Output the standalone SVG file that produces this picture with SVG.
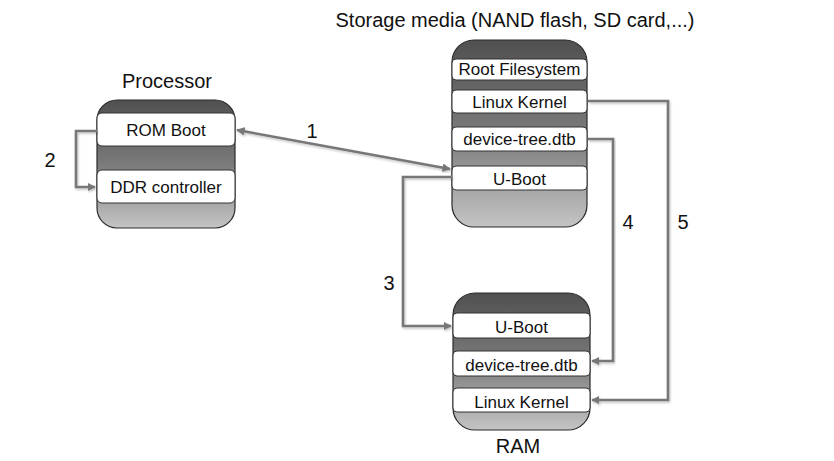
<svg xmlns="http://www.w3.org/2000/svg" width="834" height="461" viewBox="0 0 834 461">
<defs>
<linearGradient id="g" x1="0" y1="0" x2="0" y2="1">
<stop offset="0" stop-color="#505050"/>
<stop offset="0.5" stop-color="#7a7a7a"/>
<stop offset="1" stop-color="#c4c4c4"/>
</linearGradient>
<marker id="ah" viewBox="0 0 10 10" refX="9" refY="5" markerWidth="3.2" markerHeight="3.2" orient="auto-start-reverse" markerUnits="strokeWidth">
<path d="M0,0 L10,5 L0,10 z" fill="#777"/>
</marker>
<filter id="sh" x="-10%" y="-10%" width="120%" height="120%">
<feDropShadow dx="1" dy="1.5" stdDeviation="1" flood-color="#000" flood-opacity="0.25"/>
</filter>
</defs>
<style>
.box{fill:url(#g);stroke:#2a2a2a;stroke-width:1.2}
.band{fill:#fff;stroke:#333;stroke-width:1}
.t{font-family:"Liberation Sans",Arial,sans-serif;fill:#111;text-anchor:middle}
.bl{font-size:17px}
.title{font-size:20px}
.c{fill:none;stroke:#777;stroke-width:2.6;filter:url(#sh)}
</style>
<rect width="834" height="461" fill="#fff"/>
<text class="t title" x="515" y="27">Storage media (NAND flash, SD card,...)</text>
<g id="processor">
<text class="t title" x="167" y="88">Processor</text>
<rect class="box" x="97" y="100" width="138" height="128" rx="20"/>
<rect class="band" x="97" y="113" width="138" height="33" rx="5"/>
<text class="t bl" x="166" y="136">ROM Boot</text>
<rect class="band" x="97" y="170" width="138" height="33" rx="5"/>
<text class="t bl" x="166" y="193">DDR controller</text>
</g>
<g id="storage">
<rect class="box" x="452" y="40" width="135" height="187" rx="22"/>
<rect class="band" x="452" y="59" width="135" height="21" rx="4"/>
<text class="t bl" x="519.5" y="75">Root Filesystem</text>
<rect class="band" x="452" y="90" width="135" height="23" rx="4"/>
<text class="t bl" x="519.5" y="108">Linux Kernel</text>
<rect class="band" x="452" y="127" width="135" height="24" rx="4"/>
<text class="t bl" x="519.5" y="145">device-tree.dtb</text>
<rect class="band" x="452" y="166" width="135" height="24" rx="4"/>
<text class="t bl" x="519.5" y="185">U-Boot</text>
</g>
<g id="ram">
<rect class="box" x="453" y="293" width="137" height="137" rx="22"/>
<rect class="band" x="453" y="313" width="137" height="25" rx="4"/>
<text class="t bl" x="521.5" y="333">U-Boot</text>
<rect class="band" x="453" y="351" width="137" height="25" rx="4"/>
<text class="t bl" x="521.5" y="371">device-tree.dtb</text>
<rect class="band" x="453" y="388" width="137" height="24" rx="4"/>
<text class="t bl" x="521.5" y="408">Linux Kernel</text>
<text class="t title" x="518" y="453">RAM</text>
</g>
<g id="connectors">
<path class="c" d="M237,130 L450,169" marker-start="url(#ah)" marker-end="url(#ah)"/>
<path class="c" d="M97,131 H76 V187 H95" marker-end="url(#ah)"/>
<path class="c" d="M452,177 H403 V326 H451" marker-end="url(#ah)"/>
<path class="c" d="M588,139 H613 V361 H592" marker-end="url(#ah)"/>
<path class="c" d="M588,101 H668 V400 H592" marker-end="url(#ah)"/>
<text class="t title" x="312" y="138">1</text>
<text class="t title" x="50" y="167">2</text>
<text class="t title" x="389" y="290">3</text>
<text class="t title" x="628" y="229">4</text>
<text class="t title" x="683" y="229">5</text>
</g>
</svg>
